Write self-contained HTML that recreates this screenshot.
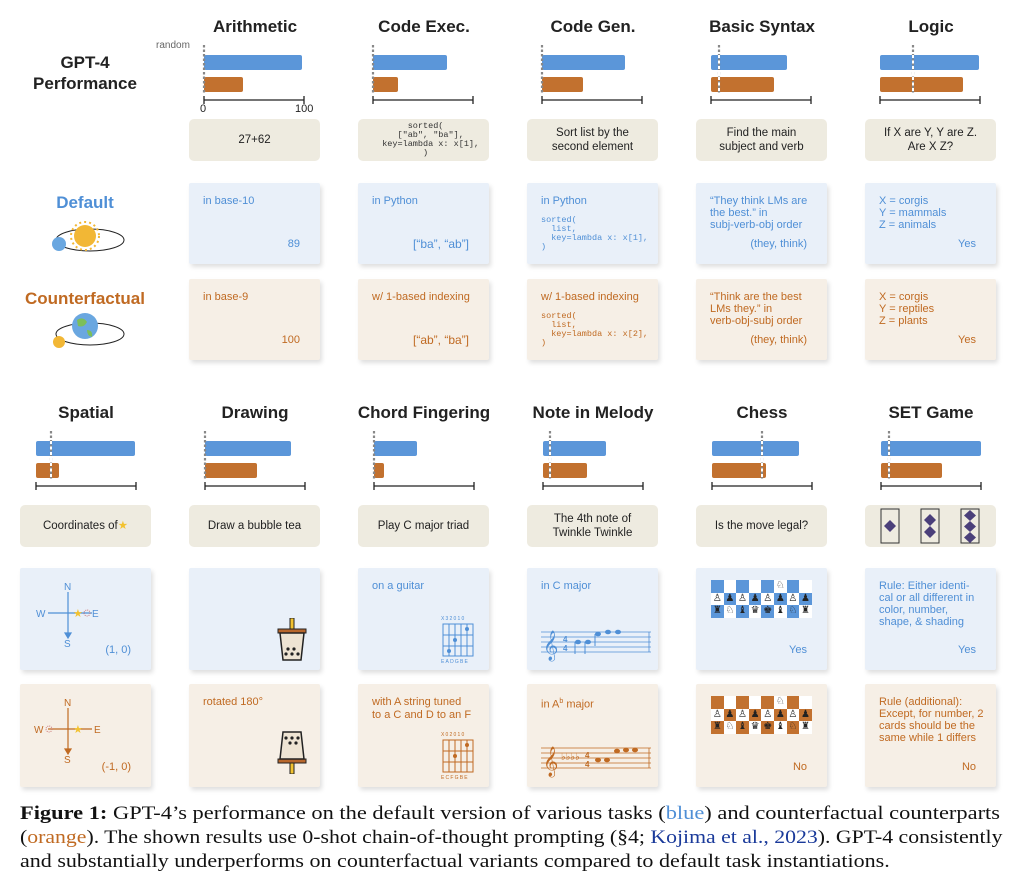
<!DOCTYPE html>
<html><head><meta charset="utf-8">
<style>
body{margin:0;width:1024px;height:896px;background:#fff;position:relative;overflow:hidden;font-family:"Liberation Sans",sans-serif;}
.abs{position:absolute;}
.title{position:absolute;font-weight:bold;font-size:17px;color:#222;text-align:center;width:170px;}
.q{position:absolute;background:#eeebe0;border-radius:5px;height:42px;width:131px;display:flex;align-items:center;justify-content:center;text-align:center;font-size:11.5px;color:#222;line-height:14px;}
.card{position:absolute;width:131px;border-radius:2px;box-shadow:2px 3px 5px rgba(0,0,0,0.13);font-size:11px;line-height:12px;}
.d{background:#e9f0f9;color:#4f8fd6;}
.c{background:#f6efe6;color:#c06a22;}
.t{position:absolute;left:14px;top:12px;}
.br{position:absolute;right:20px;bottom:14px;}
.code{font-family:"Liberation Mono",monospace;font-size:8.5px;line-height:9px;white-space:pre;}
.cap{position:absolute;left:20px;font-family:"Liberation Serif",serif;font-size:19px;line-height:22px;white-space:nowrap;color:#111;transform-origin:0 0;}
</style></head><body>

<div class="title" style="left:0;top:52px;line-height:21px;">GPT-4<br>Performance</div>
<div class="title" style="left:0;top:193px;color:#4f8fd6;">Default</div>
<div class="title" style="left:0;top:289px;color:#c06a22;">Counterfactual</div>
<svg class="abs" style="left:45px;top:218px" width="90" height="45">
<ellipse cx="45" cy="22" rx="34" ry="11" fill="none" stroke="#222" stroke-width="1"/>
<circle cx="40" cy="18" r="11" fill="#f2b735"/><circle cx="40" cy="18" r="14" fill="none" stroke="#f2b735" stroke-width="2" stroke-dasharray="2 3"/>
<circle cx="14" cy="26" r="7" fill="#6aa7e0"/></svg>
<svg class="abs" style="left:45px;top:312px" width="90" height="45">
<ellipse cx="45" cy="22" rx="34" ry="11" fill="none" stroke="#222" stroke-width="1"/>
<circle cx="40" cy="14" r="13" fill="#6aa7e0"/><path d="M32 8 q6 -4 10 2 q-3 6 -9 4z M42 18 q6 0 5 7 q-5 -1 -5 -7z" fill="#7cbf5a"/>
<circle cx="14" cy="30" r="6" fill="#f2b735"/></svg>

<div class="title" style="left:170px;top:17px">Arithmetic</div>
<div class="title" style="left:339px;top:17px">Code Exec.</div>
<div class="title" style="left:508px;top:17px">Code Gen.</div>
<div class="title" style="left:677px;top:17px">Basic Syntax</div>
<div class="title" style="left:846px;top:17px">Logic</div>
<div class="title" style="left:1px;top:403px">Spatial</div>
<div class="title" style="left:170px;top:403px">Drawing</div>
<div class="title" style="left:339px;top:403px">Chord Fingering</div>
<div class="title" style="left:508px;top:403px">Note in Melody</div>
<div class="title" style="left:677px;top:403px">Chess</div>
<div class="title" style="left:846px;top:403px">SET Game</div>

<div class="abs" style="left:156px;top:40px;font-size:10px;color:#666">random</div>
<div class="abs" style="left:200px;top:103px;font-size:11px;color:#222">0</div>
<div class="abs" style="left:295px;top:103px;font-size:11px;color:#222">100</div>

<svg id="bars" class="abs" style="left:0;top:0" width="1024" height="500"></svg>

<div class="q" style="left:189px;top:119px">27+62</div>
<div class="q" style="left:358px;top:119px;justify-content:flex-start"><div class="code" style="padding-left:14px;color:#333">sorted(
  ["ab", "ba"],
  key=lambda x: x[1],
)</div></div>
<div class="q" style="left:527px;top:119px">Sort list by the<br>second element</div>
<div class="q" style="left:696px;top:119px">Find the main<br>subject and verb</div>
<div class="q" style="left:865px;top:119px">If X are Y, Y are Z.<br>Are X Z?</div>

<div class="card d" style="left:189px;top:183px;height:81px"><div class="t">in base-10</div><div class="br">89</div></div>
<div class="card d" style="left:358px;top:183px;height:81px"><div class="t">in Python</div><div class="br" style="font-size:12px">[“ba”,  “ab”]</div></div>
<div class="card d" style="left:527px;top:183px;height:81px"><div class="t">in Python</div><div class="code abs" style="left:14px;top:33px">sorted(
  list,
  key=lambda x: x[1],
)</div></div>
<div class="card d" style="left:696px;top:183px;height:81px"><div class="t">“They think LMs are<br>the best.” in<br>subj-verb-obj order</div><div class="br">(they, think)</div></div>
<div class="card d" style="left:865px;top:183px;height:81px"><div class="t">X = corgis<br>Y = mammals<br>Z = animals</div><div class="br">Yes</div></div>

<div class="card c" style="left:189px;top:279px;height:81px"><div class="t">in base-9</div><div class="br">100</div></div>
<div class="card c" style="left:358px;top:279px;height:81px"><div class="t">w/ 1-based indexing</div><div class="br" style="font-size:12px">[“ab”,  “ba”]</div></div>
<div class="card c" style="left:527px;top:279px;height:81px"><div class="t">w/ 1-based indexing</div><div class="code abs" style="left:14px;top:33px">sorted(
  list,
  key=lambda x: x[2],
)</div></div>
<div class="card c" style="left:696px;top:279px;height:81px"><div class="t">“Think are the best<br>LMs they.” in<br>verb-obj-subj order</div><div class="br">(they, think)</div></div>
<div class="card c" style="left:865px;top:279px;height:81px"><div class="t">X = corgis<br>Y = reptiles<br>Z = plants</div><div class="br">Yes</div></div>

<div class="q" style="left:20px;top:505px">Coordinates of <span style="color:#f2c230">★</span></div>
<div class="q" style="left:189px;top:505px">Draw a bubble tea</div>
<div class="q" style="left:358px;top:505px">Play C major triad</div>
<div class="q" style="left:527px;top:505px">The 4th note of<br>Twinkle Twinkle</div>
<div class="q" style="left:696px;top:505px">Is the move legal?</div>
<div class="q" style="left:865px;top:505px">
<svg width="131" height="42">
<g fill="none" stroke="#333"><rect x="16" y="4" width="18" height="34"/><rect x="56" y="4" width="18" height="34"/><rect x="96" y="4" width="18" height="34"/></g>
<g fill="#4a3f7a"><path d="M25 15 l6 6 -6 6 -6 -6z"/><path d="M65 9 l6 6 -6 6 -6 -6z"/><path d="M65 21 l6 6 -6 6 -6 -6z"/><path d="M105 5 l6 5.5 -6 5.5 -6 -5.5z"/><path d="M105 16 l6 5.5 -6 5.5 -6 -5.5z"/><path d="M105 27 l6 5.5 -6 5.5 -6 -5.5z"/></g></svg></div>

<div class="card d" style="left:20px;top:568px;height:102px">
<svg class="abs" style="left:0;top:0" width="131" height="102"><g stroke="#4f8fd6" stroke-width="1.2" fill="#4f8fd6"><line x1="28" y1="45" x2="72" y2="45"/><line x1="48" y1="24" x2="48" y2="68"/><path d="M45 65 l3 5 3 -5z"/></g>
<text x="44" y="22" font-size="10" fill="#4f8fd6">N</text><text x="16" y="49" font-size="10" fill="#4f8fd6">W</text><text x="72" y="49" font-size="10" fill="#4f8fd6">E</text><text x="44" y="79" font-size="10" fill="#4f8fd6">S</text>
<text x="53" y="49" font-size="11" fill="#f2c230">★</text><circle cx="67" cy="45" r="3" fill="none" stroke="#c77" stroke-dasharray="1 1"/></svg>
<div class="br">(1, 0)</div></div>
<div class="card d" style="left:189px;top:568px;height:102px">
<svg class="abs" style="left:86px;top:50px" width="34" height="46"><rect x="15" y="0" width="4" height="14" fill="#f2c230" stroke="#222" stroke-width="1"/><rect x="3" y="11" width="28" height="4" fill="#b8672c" stroke="#222"/><path d="M5 15 L29 15 L26 42 L8 42z" fill="#eee4d3" stroke="#222" stroke-width="1.5"/><g fill="#222"><circle cx="13" cy="31" r="1.6"/><circle cx="19" cy="31" r="1.6"/><circle cx="11" cy="36" r="1.6"/><circle cx="17" cy="36" r="1.6"/><circle cx="23" cy="36" r="1.6"/></g></svg></div>
<div class="card d" style="left:358px;top:568px;height:102px"><div class="t">on a guitar</div>
<svg class="abs" style="left:82px;top:46px" width="36" height="50"><text x="1" y="6" font-size="5" fill="#4f8fd6" letter-spacing="1.2">X32010</text><g stroke="#4f8fd6" fill="none"><rect x="3" y="10" width="30" height="32"/><line x1="9" y1="10" x2="9" y2="42"/><line x1="15" y1="10" x2="15" y2="42"/><line x1="21" y1="10" x2="21" y2="42"/><line x1="27" y1="10" x2="27" y2="42"/><line x1="3" y1="21" x2="33" y2="21"/><line x1="3" y1="32" x2="33" y2="32"/></g><g fill="#4f8fd6"><circle cx="27" cy="15" r="2"/><circle cx="15" cy="26" r="2"/><circle cx="9" cy="37" r="2"/></g><text x="1" y="49" font-size="5" fill="#4f8fd6" letter-spacing="1.2">EADGBE</text></svg></div>
<div class="card d" style="left:527px;top:568px;height:102px"><div class="t">in C major</div>
<svg class="abs" style="left:14px;top:58px" width="112" height="40"><g stroke="#4f8fd6" stroke-width="0.8"><line x1="0" y1="6" x2="110" y2="6"/><line x1="0" y1="11" x2="110" y2="11"/><line x1="0" y1="16" x2="110" y2="16"/><line x1="0" y1="21" x2="110" y2="21"/><line x1="0" y1="26" x2="110" y2="26"/><line x1="108" y1="6" x2="108" y2="26"/></g><text x="2" y="28" font-size="26" fill="#4f8fd6">𝄞</text><text x="22" y="16" font-size="8" fill="#4f8fd6" font-weight="bold">4</text><text x="22" y="25" font-size="8" fill="#4f8fd6" font-weight="bold">4</text><g fill="#4f8fd6"><ellipse cx="37" cy="16" rx="3" ry="2.3"/><ellipse cx="47" cy="16" rx="3" ry="2.3"/><ellipse cx="57" cy="8" rx="3" ry="2.3"/><ellipse cx="67" cy="6" rx="3" ry="2.3"/><ellipse cx="77" cy="6" rx="3" ry="2.3"/></g><g stroke="#4f8fd6"><line x1="34" y1="16" x2="34" y2="28"/><line x1="44" y1="16" x2="44" y2="28"/><line x1="54" y1="8" x2="54" y2="20"/></g></svg></div>
<div class="card d" style="left:696px;top:568px;height:102px"><div id="board-d" class="abs" style="left:15px;top:12px"></div><div class="br">Yes</div></div>
<div class="card d" style="left:865px;top:568px;height:102px"><div class="t">Rule: Either identi-<br>cal or all different in<br>color, number,<br>shape, &amp; shading</div><div class="br">Yes</div></div>

<div class="card c" style="left:20px;top:684px;height:103px">
<svg class="abs" style="left:0;top:0" width="131" height="103"><g stroke="#c06a22" stroke-width="1.2" fill="#c06a22"><line x1="28" y1="45" x2="72" y2="45"/><line x1="48" y1="24" x2="48" y2="68"/><path d="M45 65 l3 5 3 -5z"/></g>
<text x="44" y="22" font-size="10" fill="#c06a22">N</text><text x="14" y="49" font-size="10" fill="#c06a22">W</text><text x="74" y="49" font-size="10" fill="#c06a22">E</text><text x="44" y="79" font-size="10" fill="#c06a22">S</text>
<text x="53" y="49" font-size="11" fill="#f2c230">★</text><circle cx="29" cy="45" r="3" fill="none" stroke="#c77" stroke-dasharray="1 1"/></svg>
<div class="br">(-1, 0)</div></div>
<div class="card c" style="left:189px;top:684px;height:103px"><div class="t">rotated 180°</div>
<svg class="abs" style="left:86px;top:44px" width="34" height="46" transform="rotate(180)"><rect x="15" y="0" width="4" height="14" fill="#f2c230" stroke="#222" stroke-width="1"/><rect x="3" y="11" width="28" height="4" fill="#b8672c" stroke="#222"/><path d="M5 15 L29 15 L26 42 L8 42z" fill="#eee4d3" stroke="#222" stroke-width="1.5"/><g fill="#222"><circle cx="13" cy="31" r="1.6"/><circle cx="19" cy="31" r="1.6"/><circle cx="11" cy="36" r="1.6"/><circle cx="17" cy="36" r="1.6"/><circle cx="23" cy="36" r="1.6"/></g></svg></div>
<div class="card c" style="left:358px;top:684px;height:103px"><div class="t" style="line-height:13px">with A string tuned<br>to a C and D to an F</div>
<svg class="abs" style="left:82px;top:46px" width="36" height="50"><text x="1" y="6" font-size="5" fill="#c06a22" letter-spacing="1.2">X02010</text><g stroke="#c06a22" fill="none"><rect x="3" y="10" width="30" height="32"/><line x1="9" y1="10" x2="9" y2="42"/><line x1="15" y1="10" x2="15" y2="42"/><line x1="21" y1="10" x2="21" y2="42"/><line x1="27" y1="10" x2="27" y2="42"/><line x1="3" y1="21" x2="33" y2="21"/><line x1="3" y1="32" x2="33" y2="32"/></g><g fill="#c06a22"><circle cx="27" cy="15" r="2"/><circle cx="15" cy="26" r="2"/></g><text x="1" y="49" font-size="5" fill="#c06a22" letter-spacing="1.2">ECFGBE</text></svg></div>
<div class="card c" style="left:527px;top:684px;height:103px"><div class="t">in A<sup style="font-size:7px">b</sup> major</div>
<svg class="abs" style="left:14px;top:58px" width="112" height="40"><g stroke="#c06a22" stroke-width="0.8"><line x1="0" y1="6" x2="110" y2="6"/><line x1="0" y1="11" x2="110" y2="11"/><line x1="0" y1="16" x2="110" y2="16"/><line x1="0" y1="21" x2="110" y2="21"/><line x1="0" y1="26" x2="110" y2="26"/><line x1="108" y1="6" x2="108" y2="26"/></g><text x="2" y="28" font-size="26" fill="#c06a22">𝄞</text><text x="20" y="18" font-size="10" fill="#c06a22">♭♭♭♭</text><text x="44" y="16" font-size="8" fill="#c06a22" font-weight="bold">4</text><text x="44" y="25" font-size="8" fill="#c06a22" font-weight="bold">4</text><g fill="#c06a22"><ellipse cx="57" cy="18" rx="3" ry="2.3"/><ellipse cx="66" cy="18" rx="3" ry="2.3"/><ellipse cx="76" cy="9" rx="3" ry="2.3"/><ellipse cx="85" cy="8" rx="3" ry="2.3"/><ellipse cx="94" cy="8" rx="3" ry="2.3"/></g></svg></div>
<div class="card c" style="left:696px;top:684px;height:103px"><div id="board-c" class="abs" style="left:15px;top:12px"></div><div class="br">No</div></div>
<div class="card c" style="left:865px;top:684px;height:103px"><div class="t">Rule (additional):<br>Except, for number, 2<br>cards should be the<br>same while 1 differs</div><div class="br">No</div></div>

<div class="cap" style="top:803px;transform:scaleX(1.18)"><b>Figure 1:</b> GPT-4’s performance on the default version of various tasks (<span style="color:#4f8fd6">blue</span>) and counterfactual counterparts</div>
<div class="cap" style="top:827px;transform:scaleX(1.145)">(<span style="color:#c06a22">orange</span>). The shown results use 0-shot chain-of-thought prompting (§4; <span style="color:#1a3a9a">Kojima et al., 2023</span>). GPT-4 consistently</div>
<div class="cap" style="top:851px;transform:scaleX(1.16)">and substantially underperforms on counterfactual variants compared to default task instantiations.</div>

<script>
const tasks = ["Arithmetic","Code Exec.","Code Gen.","Basic Syntax","Logic","Spatial","Drawing","Chord Fingering","Note in Melody","Chess","SET Game"];
const defaultVals = [98,74,83,76,99,99,86,43,63,87,100];
const cfVals = [39,25,41,63,83,23,52,10,44,54,61];
const randomVals = [0,0,0,8,33,15,0,0,7,50,8];

const NS="http://www.w3.org/2000/svg";
const svg=document.getElementById('bars');
function panel(i){
  if(i<5) return {x0:204+169*i, y:55};
  return {x0:36+169*(i-5), y:441};
}
function xs(i,v){return panel(i).x0+v;}
function mk(tag,attrs){const e=document.createElementNS(NS,tag);for(const k in attrs)e.setAttribute(k,attrs[k]);svg.appendChild(e);return e;}
tasks.forEach((t,i)=>{
  const p=panel(i);
  const b=mk('rect',{x:xs(i,0),y:p.y,width:xs(i,defaultVals[i])-xs(i,0),height:15,rx:2,fill:'#5b96d9'});
  
  
  const c=mk('rect',{x:xs(i,0),y:p.y+22,width:xs(i,cfVals[i])-xs(i,0),height:15,rx:2,fill:'#c2712f'});
  
  
  const rx=xs(i,randomVals[i]);
  const inside=randomVals[i]>2;
  const r=mk('line',{x1:rx,y1:p.y-10,x2:rx,y2:p.y+38,stroke:'#888','stroke-width':2.2,'stroke-dasharray':'2.5 2'});
  
  
  if(inside){
    const r2=mk('line',{x1:rx,y1:p.y,x2:rx,y2:p.y+37,stroke:'#fff','stroke-width':2,'stroke-dasharray':'3 2.5'});
    
    
  }
  const ay=p.y+45;
  const ax=mk('path',{d:`M${xs(i,0)} ${ay-4}V${ay+4}M${xs(i,0)} ${ay}H${xs(i,100)}M${xs(i,100)} ${ay-4}V${ay+4}`,stroke:'#222','stroke-width':1.3,fill:'none'});
  
  
});

const pieces=[[ "","","","","","♘","",""],["♙","♟","♙","♟","♙","♟","♙","♟"],["♜","♘","♝","♛","♚","♝","♘","♜"]];
function board(id,col){
  const host=document.getElementById(id);
  let h='';
  for(let r=0;r<3;r++)for(let c=0;c<8;c++){
    const dark=(r+c)%2==0;
    h+=`<div style="position:absolute;left:${c*12.6}px;top:${r*12.5}px;width:12.6px;height:12.5px;background:${dark?col:'#fff'};font-size:10px;line-height:12.5px;text-align:center;color:#222">${pieces[r][c]}</div>`;
  }
  host.innerHTML=h;
}
board('board-d','#5b96d9');
board('board-c','#c2712f');
</script>
</body></html>
